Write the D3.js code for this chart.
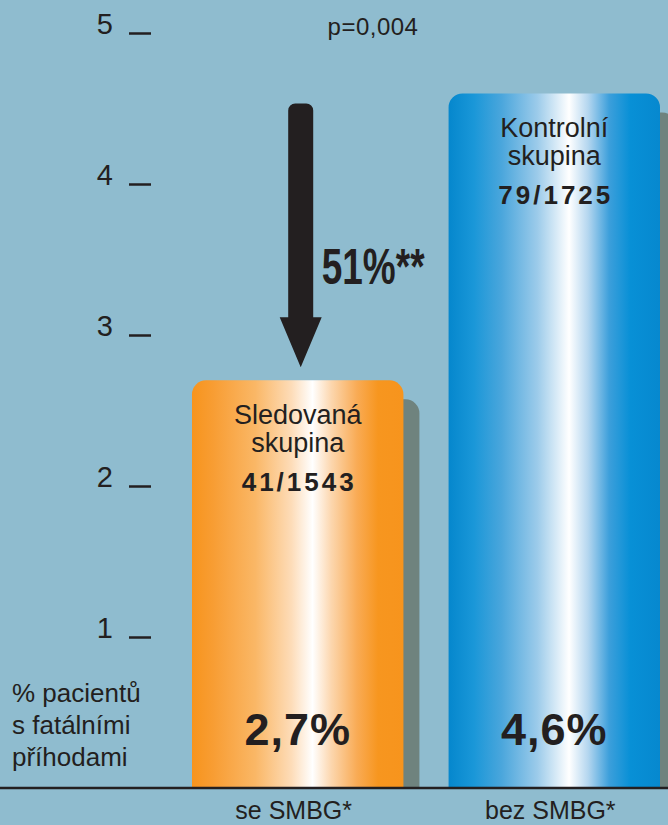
<!DOCTYPE html>
<html>
<head>
<meta charset="utf-8">
<script src="https://cdn.jsdelivr.net/npm/d3@7"></script>
<style>
  body { margin: 0; background: #8fbccf; }
  svg { display: block; font-family: "Liberation Sans", Arial, sans-serif; }
</style>
</head>
<body>
<svg id="chart"></svg>
<script>
// data
const categories = ["se SMBG*", "bez SMBG*"];
const values = [2.7, 4.6];
const valueLabels = ["2,7%", "4,6%"];
const groupNames = [["Sledovaná", "skupina"], ["Kontrolní", "skupina"]];
const groupCounts = ["41/1543", "79/1725"];
const yTicks = [1, 2, 3, 4, 5];
const yTitle = ["% pacientů", "s fatálními", "příhodami"];
const reductionLabel = "51%**";
const pLabel = "p=0,004";

const width = 668, height = 825;
const ink = "#231f20";

const svg = d3.select("#chart")
    .attr("width", width)
    .attr("height", height)
    .style("background-color", "#8fbccf");

// scales
const yScale = d3.scaleLinear().domain([0, 5]).range([788, 33]);
const xScale = d3.scaleBand()
    .domain(categories)
    .range([192, 660])
    .paddingInner(0.176)
    .paddingOuter(0);
const bw = xScale.bandwidth();

// gradients
const defs = svg.append("defs");
const gradStops = [
  [[0, "#f7941d"], [0.1, "#f89d33"], [0.3, "#fab766"], [0.47, "#fddcb8"], [0.57, "#ffffff"],
   [0.66, "#fcd6ad"], [0.78, "#f9ab55"], [0.88, "#f7961f"], [1, "#f7941d"]],
  [[0, "#0587cd"], [0.12, "#1a97d8"], [0.25, "#4aa6dc"], [0.42, "#9ccbea"], [0.57, "#ffffff"],
   [0.66, "#b4d6ef"], [0.76, "#3c9fdb"], [0.86, "#0890d6"], [1, "#0688cf"]]
];
gradStops.forEach((stops, i) => {
  const g = defs.append("linearGradient")
      .attr("id", "grad" + i)
      .attr("x1", "0%").attr("x2", "100%").attr("y1", "0%").attr("y2", "0%");
  stops.forEach(s => g.append("stop").attr("offset", s[0]).attr("stop-color", s[1]));
});

function topRounded(x, y, w, h, r) {
  return `M${x},${y + h} V${y + r} A${r},${r} 0 0 1 ${x + r},${y} H${x + w - r} A${r},${r} 0 0 1 ${x + w},${y + r} V${y + h} Z`;
}

// shadows then bars
const barData = categories.map((c, i) => ({ cat: c, value: values[i], i: i }));

svg.append("g").selectAll("path")
  .data(barData)
  .join("path")
    .attr("d", d => {
      const top = yScale(d.value) + 19;
      return topRounded(xScale(d.cat) + 16, top, bw, yScale(0) - top, 14);
    })
    .attr("fill", "#6f837e");

svg.append("g").selectAll("path")
  .data(barData)
  .join("path")
    .attr("d", d => topRounded(xScale(d.cat), yScale(d.value), bw, yScale(0) - yScale(d.value), 14))
    .attr("fill", d => `url(#grad${d.i})`);

// texts inside bars
barData.forEach(d => {
  const cx = xScale(d.cat) + bw / 2;
  const top = yScale(d.value);
  const g = svg.append("g").attr("fill", ink).attr("text-anchor", "middle");
  g.append("text").attr("x", cx).attr("y", top + 44)
      .style("font-size", "27px").text(groupNames[d.i][0]);
  g.append("text").attr("x", cx).attr("y", top + 72)
      .style("font-size", "27px").text(groupNames[d.i][1]);
  g.append("text").attr("x", cx + 1.5).attr("y", top + 111)
      .style("font-size", "26px").style("font-weight", "bold")
      .style("letter-spacing", "3px").text(groupCounts[d.i]);
  g.append("text").attr("x", cx).attr("y", yScale(0) - 43)
      .style("font-size", "45px").style("font-weight", "bold")
      .style("letter-spacing", "1px").text(valueLabels[d.i]);
  // category label under the baseline
  g.append("text").attr("x", cx - 4).attr("y", 819)
      .style("font-size", "25px").text(d.cat);
});

// baseline
svg.append("line")
    .attr("x1", 0).attr("x2", width)
    .attr("y1", yScale(0)).attr("y2", yScale(0))
    .attr("stroke", ink).attr("stroke-width", 2.5);

// y axis: short dashes with numbers sitting on them
const yAxis = d3.axisLeft(yScale)
    .tickValues(yTicks)
    .tickFormat(d3.format("d"))
    .tickSize(22)
    .tickPadding(16);
const yAxisG = svg.append("g")
    .attr("transform", "translate(151,0)")
    .call(yAxis);
yAxisG.select(".domain").remove();
yAxisG.selectAll(".tick line").attr("stroke", ink).attr("stroke-width", 2.5);
yAxisG.selectAll(".tick text")
    .attr("dy", "0")
    .attr("fill", ink)
    .style("font-size", "29px")
    .style("font-family", "'Liberation Sans', Arial, sans-serif");

// y title
svg.append("text")
    .attr("fill", ink)
    .style("font-size", "26px")
  .selectAll("tspan")
  .data(yTitle)
  .join("tspan")
    .attr("x", 12)
    .attr("y", (d, i) => 702 + i * 32)
    .text(d => d);

// reduction arrow from control level down to the followed group
const ax = xScale(categories[0]) + bw / 2 + 3;
const aTop = yScale(values[1]) + 10;
const aTip = yScale(values[0]) - 13;
const shaftW = 25, headW = 42, headL = 50, r = 7;
svg.append("path")
    .attr("d", `M${ax - shaftW / 2},${aTip - headL} V${aTop + r} A${r},${r} 0 0 1 ${ax - shaftW / 2 + r},${aTop}
      H${ax + shaftW / 2 - r} A${r},${r} 0 0 1 ${ax + shaftW / 2},${aTop + r} V${aTip - headL}
      H${ax + headW / 2} L${ax},${aTip} L${ax - headW / 2},${aTip - headL} Z`)
    .attr("fill", ink);

// condensed bold label, squeezed horizontally
svg.append("text")
    .attr("transform", `translate(${ax + 21},284) scale(0.74,1)`)
    .attr("fill", ink)
    .style("font-weight", "bold")
    .style("font-size", "50px")
    .text(reductionLabel);

svg.append("text")
    .attr("x", 373)
    .attr("y", 35)
    .attr("text-anchor", "middle")
    .attr("fill", ink)
    .style("font-size", "24px")
    .style("letter-spacing", "0.5px")
    .text(pLabel);
</script>
</body>
</html>
